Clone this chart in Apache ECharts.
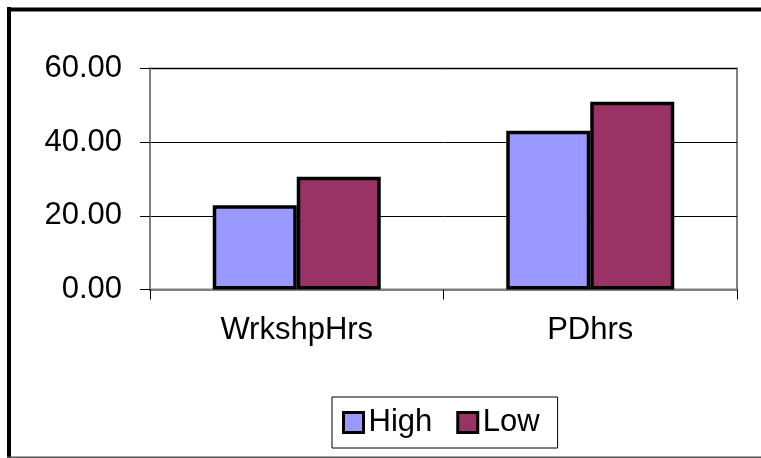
<!DOCTYPE html>
<html>
<head>
<meta charset="utf-8">
<script src="https://cdn.jsdelivr.net/npm/echarts@6/dist/echarts.min.js"></script>
<style>
html,body{margin:0;padding:0;background:#fff;}
#chart{width:761px;height:458px;}
</style>
</head>
<body>
<div id="chart"></div>
<script>
const categories = ['WrkshpHrs', 'PDhrs'];
const highValues = [22.9, 43.1];
const lowValues = [30.6, 51.0];
const seriesNames = ['High', 'Low'];
const yTicks = [0, 20, 40, 60];

const FONT = '"Liberation Sans", Arial, sans-serif';
const FS = 31;
const chart = echarts.init(document.getElementById('chart'), null, {renderer: 'canvas'});
chart.setOption({
  animation: false,
  backgroundColor: '#fff',
  textStyle: {fontFamily: FONT},
  grid: {
    left: 150, right: 24, top: 68.5, bottom: 168.5,
    show: true, borderColor: '#808080', borderWidth: 2, backgroundColor: 'transparent'
  },
  legend: {
    left: 332, top: 397,
    orient: 'horizontal',
    padding: [10, 18, 10, 10],
    borderColor: '#000', borderWidth: 1,
    itemWidth: 20, itemHeight: 20, itemGap: 24,
    icon: 'rect',
    itemStyle: {borderColor: '#000', borderWidth: 3},
    textStyle: {fontFamily: FONT, fontSize: FS, color: '#000', lineHeight: 30, padding: [0, 0, 0, 0]},
    data: seriesNames
  },
  xAxis: {
    type: 'category',
    data: categories,
    axisLine: {lineStyle: {color: '#808080', width: 2}},
    axisTick: {show: true, length: 10, lineStyle: {color: '#000', width: 1}},
    axisLabel: {fontFamily: FONT, fontSize: FS, color: '#000', margin: 25}
  },
  yAxis: {
    type: 'value',
    min: yTicks[0], max: yTicks[yTicks.length - 1], interval: 20,
    axisLine: {show: true, lineStyle: {color: '#808080', width: 2}},
    axisTick: {show: true, length: 10, lineStyle: {color: '#000', width: 1}},
    splitLine: {show: true, lineStyle: {color: '#000', width: 1}},
    axisLabel: {fontFamily: FONT, fontSize: FS, color: '#000', margin: 28,
      formatter: v => v.toFixed(2)}
  },
  series: [
    {name: seriesNames[0], type: 'bar', data: highValues, barWidth: 84, barGap: '0%',
     itemStyle: {color: '#9999FF', borderColor: '#000', borderWidth: 3.5}},
    {name: seriesNames[1], type: 'bar', data: lowValues, barWidth: 84, barGap: '0%',
     itemStyle: {color: '#993366', borderColor: '#000', borderWidth: 3.5}}
  ],
  graphic: [
    {type: 'line', shape: {x1: 9, y1: 7, x2: 9, y2: 458}, style: {stroke: '#000', lineWidth: 4}, silent: true},
    {type: 'line', shape: {x1: 7, y1: 9.5, x2: 761, y2: 9.5}, style: {stroke: '#000', lineWidth: 4}, silent: true},
    {type: 'line', shape: {x1: 7, y1: 457.5, x2: 761, y2: 457.5}, style: {stroke: '#555', lineWidth: 2}, silent: true}
  ]
});
</script>
</body>
</html>
